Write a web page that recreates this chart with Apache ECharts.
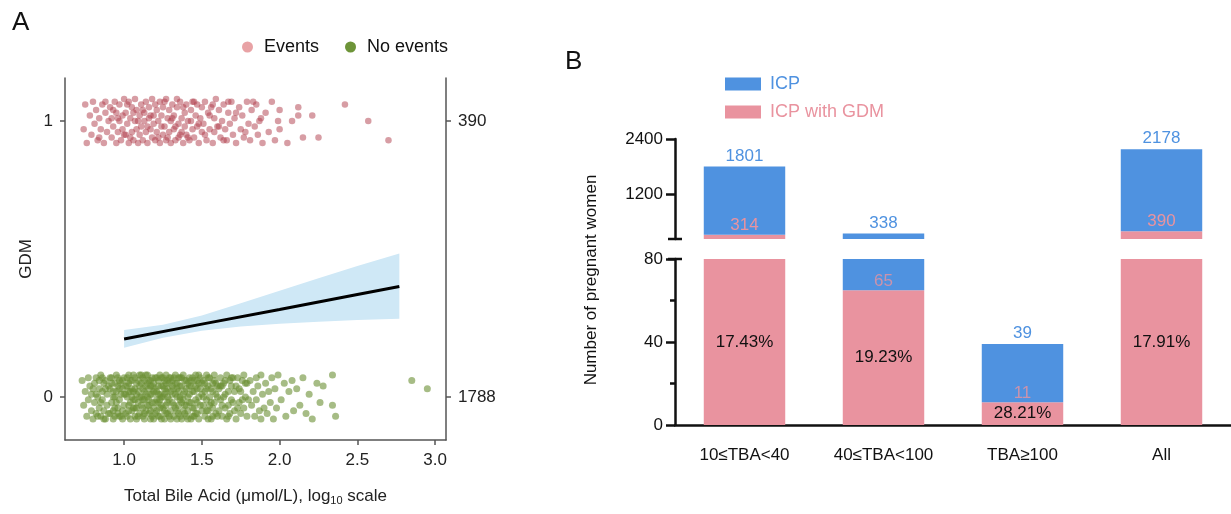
<!DOCTYPE html>
<html>
<head>
<meta charset="utf-8">
<script src="https://cdn.jsdelivr.net/npm/echarts@6/dist/echarts.min.js"></script>
<style>
html,body{margin:0;padding:0;background:#fff;}
#chart{width:1231px;height:514px;}
</style>
</head>
<body>
<div id="chart"></div>
<script>
// ---------- Panel A data ----------
const eventsN = 390;
const noEventsN = 1788;
const xTicksA = [1.0, 1.5, 2.0, 2.5, 3.0];
const yTicksA = [0, 1];
const eventsPts = [
[0.74,0.97],[0.75,1.06],[0.76,0.92],[0.78,1.02],[0.79,0.95],[0.80,1.07],
[0.81,0.99],[0.82,1.04],[0.83,0.93],[0.84,1.01],[0.85,0.97],[0.86,1.06],[0.87,0.92],[0.88,1.03],[0.89,0.96],[0.90,1.00],
[0.91,1.05],[0.92,0.94],[0.92,1.01],[0.93,0.98],[0.94,1.07],[0.95,0.92],[0.95,1.03],[0.96,0.96],[0.97,1.00],[0.97,1.06],[0.98,0.93],[0.99,1.02],[0.99,0.97],[1.00,1.08],
[1.01,0.95],[1.01,1.03],[1.02,0.99],[1.03,1.07],[1.03,0.92],[1.04,1.01],[1.05,0.96],[1.05,1.05],[1.06,0.93],[1.07,1.00],[1.07,1.08],[1.08,0.97],[1.08,1.04],[1.09,0.92],[1.10,1.02],[1.10,0.95],
[1.11,1.06],[1.11,0.98],[1.12,0.93],[1.13,1.03],[1.13,1.00],[1.14,0.96],[1.14,1.07],[1.15,0.92],[1.16,1.01],[1.16,1.05],[1.17,0.97],[1.18,0.94],[1.18,1.08],[1.19,1.02],[1.19,0.99],[1.20,0.93],
[1.21,1.04],[1.21,0.96],[1.22,1.00],[1.23,0.92],[1.23,1.07],[1.24,1.02],[1.25,0.95],[1.25,1.05],[1.26,0.98],[1.27,0.93],[1.27,1.08],[1.28,1.01],[1.29,0.96],[1.29,1.04],[1.30,0.92],[1.30,1.00],
[1.31,1.06],[1.32,0.97],[1.32,1.02],[1.33,0.93],[1.34,1.05],[1.35,0.99],[1.35,0.94],[1.36,1.07],[1.37,1.01],[1.37,0.96],[1.38,0.92],[1.39,1.03],[1.39,0.98],[1.40,1.06],[1.40,0.95],
[1.41,1.00],[1.42,0.93],[1.43,1.04],[1.44,0.97],[1.44,1.07],[1.45,0.94],[1.46,1.02],[1.47,0.98],[1.47,1.06],[1.48,0.92],[1.49,1.01],[1.50,0.96],[1.50,1.05],
[1.51,0.99],[1.52,1.07],[1.53,0.93],[1.54,1.03],[1.55,0.97],[1.56,1.05],[1.57,0.92],[1.58,1.01],[1.58,0.96],[1.59,1.08],[1.60,0.98],
[1.61,1.04],[1.62,0.94],[1.63,1.00],[1.64,1.06],[1.65,0.97],[1.66,0.93],[1.67,1.03],[1.68,0.99],[1.69,1.07],[1.70,0.95],
[1.71,1.01],[1.72,0.92],[1.74,1.05],[1.75,0.97],[1.76,1.02],[1.77,0.94],[1.79,1.07],[1.80,0.99],
[1.81,0.93],[1.82,1.04],[1.84,0.98],[1.85,1.06],[1.86,0.95],[1.88,1.01],[1.89,0.92],
[1.91,1.03],[1.93,0.96],[1.95,1.07],[1.97,0.93],[1.99,1.00],
[2.00,1.04],[2.00,0.97],[2.05,0.92],[2.08,1.00],
[2.12,1.05],[2.12,1.02],[2.15,0.94],[2.21,1.02],[2.25,0.94],
[2.42,1.06],[2.57,1.00],[2.70,0.93],
[0.84,0.94],[0.88,1.07],[0.93,1.04],[0.96,1.01],[1.00,0.95],[1.02,1.06],[1.04,0.94],[1.06,1.03],[1.09,1.00],[1.12,1.04],[1.15,0.98],[1.17,1.02],
[1.20,1.06],[1.22,0.94],[1.24,0.98],[1.26,1.07],[1.28,0.94],[1.31,1.01],[1.33,0.98],[1.34,1.08],[1.36,0.95],[1.38,1.05],[1.41,0.94],[1.43,1.00],
[1.45,1.07],[1.48,0.99],[1.52,0.95],[1.55,1.02],[1.57,1.06],[1.61,0.98],[1.64,0.93],[1.67,1.07],[1.72,1.03],[1.78,0.96],[1.83,1.07],[1.87,1.00]
];
const noEventsPts = [
[0.73,0.06],[0.74,-0.03],[0.75,0.02],[0.76,-0.07],[0.77,0.07],[0.77,-0.01],[0.78,0.04],[0.79,-0.05],[0.79,0.01],[0.80,-0.08],
[0.81,0.05],[0.81,-0.02],[0.82,0.07],[0.82,-0.06],[0.83,0.00],[0.84,0.03],[0.84,-0.04],[0.85,0.08],[0.85,-0.07],[0.86,0.02],[0.86,-0.01],[0.87,0.05],[0.87,-0.05],[0.88,0.06],[0.88,-0.08],[0.89,0.01],[0.89,-0.03],[0.90,0.04],[0.83,-0.07],[0.86,0.07],
[0.91,-0.06],[0.91,0.03],[0.92,0.07],[0.92,-0.02],[0.93,0.00],[0.93,-0.08],[0.94,0.05],[0.94,-0.04],[0.95,0.02],[0.95,0.08],[0.96,-0.06],[0.96,0.04],[0.97,-0.01],[0.97,0.06],[0.98,-0.07],[0.98,0.01],[0.99,0.03],[0.99,-0.05],[1.00,0.07],[1.00,-0.03],[0.92,0.05],[0.94,-0.07],[0.95,-0.02],[0.97,0.03],[0.98,0.05],[0.99,-0.08],[0.93,0.02],[0.96,-0.04],
[1.01,0.04],[1.01,-0.06],[1.02,0.00],[1.02,0.07],[1.03,-0.03],[1.03,0.05],[1.04,-0.08],[1.04,0.02],[1.05,0.06],[1.05,-0.05],[1.06,-0.01],[1.06,0.08],[1.07,0.03],[1.07,-0.07],[1.08,0.01],[1.08,-0.04],[1.09,0.06],[1.09,-0.02],[1.10,0.04],[1.10,-0.06],[1.01,0.01],[1.02,-0.07],[1.03,0.08],[1.04,-0.02],[1.05,0.03],[1.06,-0.04],[1.07,0.07],[1.08,-0.08],[1.09,0.02],[1.03,-0.05],[1.05,0.00],[1.07,-0.01],[1.08,0.05],[1.10,0.08],
[1.11,-0.03],[1.11,0.05],[1.12,0.07],[1.12,-0.07],[1.13,0.02],[1.13,-0.01],[1.14,0.04],[1.14,-0.05],[1.15,0.08],[1.15,0.00],[1.16,-0.06],[1.16,0.03],[1.17,0.06],[1.17,-0.08],[1.18,-0.02],[1.18,0.01],[1.19,0.05],[1.19,-0.04],[1.20,0.07],[1.20,-0.06],[1.11,0.00],[1.12,0.03],[1.13,-0.06],[1.14,0.08],[1.15,-0.03],[1.16,0.06],[1.17,0.01],[1.18,-0.07],[1.19,0.02],[1.12,-0.04],[1.14,0.01],[1.16,-0.01],[1.18,0.04],[1.13,0.06],[1.17,-0.05],[1.19,-0.08],
[1.21,0.02],[1.21,-0.05],[1.22,0.06],[1.22,-0.02],[1.23,0.08],[1.23,-0.07],[1.24,0.00],[1.24,0.04],[1.25,-0.04],[1.25,0.07],[1.26,0.01],[1.26,-0.08],[1.27,0.05],[1.27,-0.03],[1.28,-0.06],[1.28,0.03],[1.29,0.07],[1.29,-0.01],[1.30,0.02],[1.30,-0.05],[1.21,0.07],[1.22,-0.07],[1.23,0.01],[1.24,-0.03],[1.25,0.04],[1.26,-0.05],[1.27,0.08],[1.28,0.00],[1.29,-0.07],[1.22,0.04],[1.24,-0.08],[1.26,0.06],[1.28,-0.02],[1.23,-0.04],[1.27,0.02],[1.29,0.05],
[1.31,-0.02],[1.31,0.06],[1.32,0.03],[1.32,-0.07],[1.33,0.08],[1.33,-0.04],[1.34,0.00],[1.34,0.05],[1.35,-0.06],[1.35,0.02],[1.36,0.07],[1.36,-0.01],[1.37,-0.08],[1.37,0.04],[1.38,0.01],[1.38,-0.05],[1.39,0.06],[1.39,-0.03],[1.40,0.03],[1.40,-0.07],[1.31,0.01],[1.32,-0.03],[1.33,0.05],[1.34,-0.08],[1.35,0.07],[1.36,0.04],[1.37,-0.02],[1.38,0.08],[1.39,-0.06],[1.32,0.07],[1.34,-0.05],[1.36,-0.07],[1.38,-0.01],[1.40,0.06],
[1.41,0.00],[1.41,-0.05],[1.42,0.07],[1.42,-0.02],[1.43,0.04],[1.43,-0.08],[1.44,0.02],[1.44,-0.04],[1.45,0.06],[1.45,-0.07],[1.46,-0.01],[1.46,0.08],[1.47,0.03],[1.47,-0.06],[1.48,0.05],[1.48,0.00],[1.49,-0.03],[1.49,0.07],[1.50,-0.05],[1.50,0.01],[1.42,0.04],[1.43,-0.02],[1.44,0.07],[1.45,0.02],[1.46,-0.06],[1.47,0.06],[1.48,-0.08],[1.49,0.03],[1.41,0.05],[1.44,-0.07],
[1.51,0.06],[1.51,-0.03],[1.52,0.02],[1.52,-0.07],[1.53,0.08],[1.53,-0.01],[1.54,0.04],[1.54,-0.05],[1.55,0.00],[1.55,0.07],[1.56,-0.08],[1.56,0.03],[1.57,0.05],[1.57,-0.04],[1.58,-0.02],[1.58,0.06],[1.59,0.01],[1.59,-0.06],[1.60,0.04],[1.60,-0.07],[1.52,0.05],[1.54,-0.08],[1.55,-0.03],[1.57,0.02],[1.58,0.08],[1.53,-0.05],
[1.61,0.03],[1.61,-0.05],[1.62,0.07],[1.62,-0.01],[1.63,-0.07],[1.64,0.05],[1.64,0.00],[1.65,-0.04],[1.66,0.08],[1.66,-0.08],[1.67,0.02],[1.67,-0.03],[1.68,0.06],[1.68,-0.06],[1.69,-0.01],[1.69,0.04],[1.70,0.07],[1.70,-0.02],[1.63,0.04],[1.65,0.01],
[1.71,-0.05],[1.72,0.04],[1.72,-0.08],[1.73,0.07],[1.74,-0.02],[1.75,0.02],[1.75,-0.06],[1.76,0.06],[1.77,-0.04],[1.77,0.08],[1.78,0.00],[1.79,-0.07],[1.79,0.05],[1.80,-0.01],[1.74,0.03],
[1.81,0.06],[1.82,-0.03],[1.83,0.02],[1.84,-0.07],[1.85,0.07],[1.85,-0.01],[1.86,0.04],[1.87,-0.05],[1.88,0.08],[1.88,-0.08],[1.89,0.01],[1.90,-0.04],
[1.91,0.05],[1.92,-0.06],[1.93,0.02],[1.94,-0.02],[1.95,0.07],[1.96,-0.08],[1.97,0.03],[1.98,-0.04],[1.99,0.08],
[2.01,-0.01],[2.03,0.05],[2.04,-0.07],[2.06,0.02],[2.08,0.06],[2.09,-0.05],
[2.11,0.03],[2.13,-0.03],[2.15,0.07],[2.17,-0.06],[2.19,0.01],
[2.21,-0.08],[2.24,0.05],[2.26,-0.02],[2.28,0.04],
[2.34,0.08],[2.34,-0.03],[2.36,-0.07],
[2.85,0.06],[2.95,0.03],
[0.80,0.03],[0.82,0.01],[0.84,0.06],[0.85,-0.02],[0.87,-0.08],[0.88,0.03],[0.90,-0.06],[0.91,0.07],[0.93,-0.05],[0.94,0.00],[0.96,0.07],[0.97,-0.07],
[0.99,0.06],[1.00,0.01],[1.02,0.04],[1.03,0.02],[1.04,0.06],[1.06,0.02],[1.07,-0.04],[1.09,-0.07],[1.10,0.00],[1.11,0.08],[1.12,-0.01],[1.13,-0.08],
[1.15,0.05],[1.16,-0.03],[1.17,0.04],[1.18,0.07],[1.20,0.03],[1.20,-0.02],[1.21,-0.01],[1.22,0.01],[1.23,-0.01],[1.24,0.07],[1.25,0.00],[1.26,0.03],
[1.27,-0.06],[1.28,0.06],[1.30,0.07],[1.30,-0.08],[1.31,0.04],[1.33,0.01],[1.34,0.03],[1.35,-0.03],[1.36,0.00],[1.37,0.07],[1.39,0.02],[1.40,-0.03],
[1.41,-0.08],[1.42,0.01],[1.43,0.06],[1.45,-0.04],[1.46,0.04],[1.47,-0.02],[1.48,0.08],[1.50,0.05],[1.51,0.00],[1.53,0.03],[1.54,0.07],[1.56,-0.02],
[1.57,-0.07],[1.59,0.05],[1.60,0.00],[1.62,0.04],[1.63,-0.03],[1.65,0.06],[1.67,-0.07],[1.69,0.07],[1.71,0.02],[1.73,-0.04],[1.76,-0.01],[1.78,0.05]
];
const fitX = [1.0, 1.5, 2.0, 2.5, 2.77];
const fitY = [0.21, 0.264, 0.317, 0.371, 0.40];
const bandX    = [1.0,   1.25,  1.5,   1.75,  2.0,   2.25,  2.5,   2.77];
const bandLow  = [0.178, 0.215, 0.240, 0.255, 0.265, 0.273, 0.279, 0.283];
const bandHigh = [0.243, 0.262, 0.295, 0.340, 0.385, 0.430, 0.475, 0.520];

// ---------- Panel B data ----------
const categories = ['10≤TBA<40', '40≤TBA<100', 'TBA≥100', 'All'];
const icpTotal = [1801, 338, 39, 2178];
const icpGdm = [314, 65, 11, 390];
const upperTicks = [1200, 2400];
const lowerTicks = [0, 40, 80];

const BLUE = '#4f92e0', PINK = '#e9939f';
const FONT = 'Liberation Sans, Arial, Helvetica, sans-serif';
const UP_MIN = 220, UP_MAX = 2400, LOW_MAX = 80;

const icpRest = icpTotal.map((t, i) => t - icpGdm[i]);
const pct = icpGdm.map((g, i) => (g / icpTotal[i] * 100).toFixed(2) + '%');

const chart = echarts.init(document.getElementById('chart'), null, {renderer: 'canvas'});

const blackLine = {lineStyle: {color: '#111', width: 2.5}};

const option = {
  animation: false,
  backgroundColor: '#fff',
  textStyle: {fontFamily: FONT},
  graphic: [
    {type: 'text', x: 12, y: 10, style: {text: 'A', font: '26px ' + FONT, fill: '#111'}},
    {type: 'text', x: 565, y: 49, style: {text: 'B', font: '26px ' + FONT, fill: '#111'}},
    {type: 'text', x: 591, y: 280, rotation: Math.PI / 2,
     style: {text: 'Number of pregnant women', font: '17px ' + FONT, fill: '#111', align: 'center', verticalAlign: 'middle'}}
  ],
  legend: [
    {
      left: 237, top: 33, icon: 'circle', itemWidth: 11, itemHeight: 11, itemGap: 26,
      textStyle: {fontSize: 18, color: '#111', padding: [0, 0, 0, 6]},
      data: [
        {name: 'Events', itemStyle: {color: '#e8a2a5', opacity: 1}},
        {name: 'No events', itemStyle: {color: '#6d9438', opacity: 1}}
      ]
    },
    {
      left: 720, top: 70, orient: 'vertical', icon: 'rect', itemWidth: 36, itemHeight: 13, itemGap: 10,
      textStyle: {fontSize: 18, padding: [0, 0, 0, 4]},
      data: [
        {name: 'ICP', itemStyle: {color: BLUE}, textStyle: {color: BLUE}},
        {name: 'ICP with GDM', itemStyle: {color: PINK}, textStyle: {color: PINK}}
      ]
    }
  ],
  grid: [
    {left: 65, right: 785, top: 78, bottom: 74},
    {left: 675, right: -3, top: 139, bottom: 275},
    {left: 675, right: -3, top: 259, bottom: 89}
  ],
  xAxis: [
    {
      type: 'value', gridIndex: 0, min: 0.62, max: 3.07,
      axisLine: {show: true, onZero: false, lineStyle: {color: '#555', width: 1.5}},
      splitLine: {show: false},
      axisTick: {show: true, length: 5, lineStyle: {color: '#555', width: 1.5}, customValues: xTicksA},
      axisLabel: {fontSize: 17, color: '#222', margin: 12, customValues: xTicksA, formatter: v => v.toFixed(1)},
      name: '{a|Total Bile Acid (μmol/L), log}{s|10}{a| scale}',
      nameLocation: 'middle', nameGap: 46,
      nameTextStyle: {
        rich: {
          a: {fontSize: 17, color: '#222', lineHeight: 20, fontFamily: FONT},
          s: {fontSize: 11, color: '#222', lineHeight: 8, verticalAlign: 'bottom', fontFamily: FONT}
        }
      }
    },
    {type: 'category', gridIndex: 1, data: categories, show: false},
    {
      type: 'category', gridIndex: 2, data: categories,
      axisLine: blackLine,
      axisTick: {alignWithLabel: true, length: 7, lineStyle: {color: '#111', width: 2.5}},
      axisLabel: {fontSize: 17, color: '#111', margin: 22}
    }
  ],
  yAxis: [
    {
      type: 'value', gridIndex: 0, min: -0.156, max: 1.156,
      axisLine: {show: true, onZero: false, lineStyle: {color: '#555', width: 1.5}}, splitLine: {show: false},
      axisTick: {show: true, length: 5, lineStyle: {color: '#555', width: 1.5}, customValues: yTicksA},
      axisLabel: {fontSize: 17, color: '#222', margin: 12, customValues: yTicksA},
      name: 'GDM', nameLocation: 'middle', nameGap: 30,
      nameTextStyle: {fontSize: 17, color: '#222'}
    },
    {
      type: 'value', gridIndex: 0, position: 'right', min: -0.156, max: 1.156,
      axisLine: {show: true, onZero: false, lineStyle: {color: '#555', width: 1.5}}, splitLine: {show: false},
      axisTick: {show: true, length: 5, lineStyle: {color: '#555', width: 1.5}, customValues: yTicksA},
      axisLabel: {fontSize: 17, color: '#222', margin: 12, customValues: yTicksA,
        formatter: v => (v === 1 ? String(eventsN) : String(noEventsN))}
    },
    {
      type: 'value', gridIndex: 1, min: UP_MIN, max: UP_MAX,
      axisLine: {show: true, lineStyle: {color: '#111', width: 2.5}, symbol: ['rect', 'none'], symbolSize: [14, 2.5]},
      splitLine: {show: false},
      axisTick: {show: true, length: 9, lineStyle: {color: '#111', width: 2.5}, customValues: upperTicks},
      axisLabel: {fontSize: 17, color: '#111', margin: 12, customValues: upperTicks, formatter: v => String(v)}
    },
    {
      type: 'value', gridIndex: 2, min: 0, max: LOW_MAX, interval: 40,
      axisLine: {show: true, lineStyle: {color: '#111', width: 2.5}, symbol: ['none', 'rect'], symbolSize: [14, 2.5]},
      splitLine: {show: false},
      axisTick: {show: true, length: 9, lineStyle: {color: '#111', width: 2.5}},
      minorTick: {show: true, splitNumber: 2, length: 5, lineStyle: {color: '#111', width: 2.5}},
      minorSplitLine: {show: false},
      axisLabel: {fontSize: 17, color: '#111', margin: 12, customValues: lowerTicks, formatter: v => String(v)}
    }
  ],
  series: [
    // ---- Panel A ----
    {
      type: 'custom', name: 'CI', xAxisIndex: 0, yAxisIndex: 0, silent: true, z: 1,
      data: [[bandX[0], bandLow[0]]],
      renderItem: function (params, api) {
        const pts = [];
        for (let i = 0; i < bandX.length; i++) pts.push(api.coord([bandX[i], bandHigh[i]]));
        for (let i = bandX.length - 1; i >= 0; i--) pts.push(api.coord([bandX[i], bandLow[i]]));
        return {type: 'polygon', shape: {points: pts}, style: {fill: '#cfe8f6'}};
      }
    },
    {
      type: 'line', name: 'fit', xAxisIndex: 0, yAxisIndex: 0, z: 3, silent: true,
      data: fitX.map((x, i) => [x, fitY[i]]), symbol: 'none',
      lineStyle: {color: '#000', width: 3}
    },
    {
      type: 'scatter', name: 'Events', xAxisIndex: 0, yAxisIndex: 0, z: 2,
      data: eventsPts, symbolSize: 6.5,
      itemStyle: {color: '#b03c49', opacity: 0.5}
    },
    {
      type: 'scatter', name: 'No events', xAxisIndex: 0, yAxisIndex: 0, z: 2,
      data: noEventsPts, symbolSize: 7,
      itemStyle: {color: '#6b8f34', opacity: 0.6}
    },
    // ---- Panel B upper ----
    {
      type: 'bar', name: 'ICP with GDM', xAxisIndex: 1, yAxisIndex: 2, stack: 'up', barWidth: '58.6%',
      data: icpGdm, itemStyle: {color: PINK},
      label: {show: true, position: 'top', distance: 1, color: PINK, fontSize: 17,
        formatter: p => (p.value > UP_MIN ? String(p.value) : '')}
    },
    {
      type: 'bar', name: 'ICP', xAxisIndex: 1, yAxisIndex: 2, stack: 'up', barWidth: '58.6%',
      data: icpRest, itemStyle: {color: BLUE},
      label: {show: true, position: 'top', distance: 2, color: BLUE, fontSize: 17,
        formatter: p => (icpTotal[p.dataIndex] > UP_MIN ? String(icpTotal[p.dataIndex]) : '')}
    },
    // ---- Panel B lower ----
    {
      type: 'bar', name: 'ICP with GDM', xAxisIndex: 2, yAxisIndex: 3, stack: 'low', barWidth: '58.6%',
      data: icpGdm, itemStyle: {color: PINK},
      label: {show: true, position: 'inside', color: '#111', fontSize: 17,
        formatter: p => pct[p.dataIndex]}
    },
    {
      type: 'bar', name: 'ICP', xAxisIndex: 2, yAxisIndex: 3, stack: 'low', barWidth: '58.6%',
      data: icpRest, itemStyle: {color: BLUE},
      label: {show: true, position: 'top', distance: 2, color: BLUE, fontSize: 17,
        formatter: p => (icpTotal[p.dataIndex] <= LOW_MAX ? String(icpTotal[p.dataIndex]) : '')}
    },
    {
      type: 'scatter', name: 'gdmCount', xAxisIndex: 2, yAxisIndex: 3, silent: true, z: 5,
      data: icpGdm.map((g, i) => [categories[i], g]), symbolSize: 0,
      label: {show: true, position: 'top', distance: 0, color: PINK, fontSize: 17,
        formatter: p => (p.value[1] < LOW_MAX ? String(p.value[1]) : '')}
    }
  ]
};
chart.setOption(option);
</script>
</body>
</html>
